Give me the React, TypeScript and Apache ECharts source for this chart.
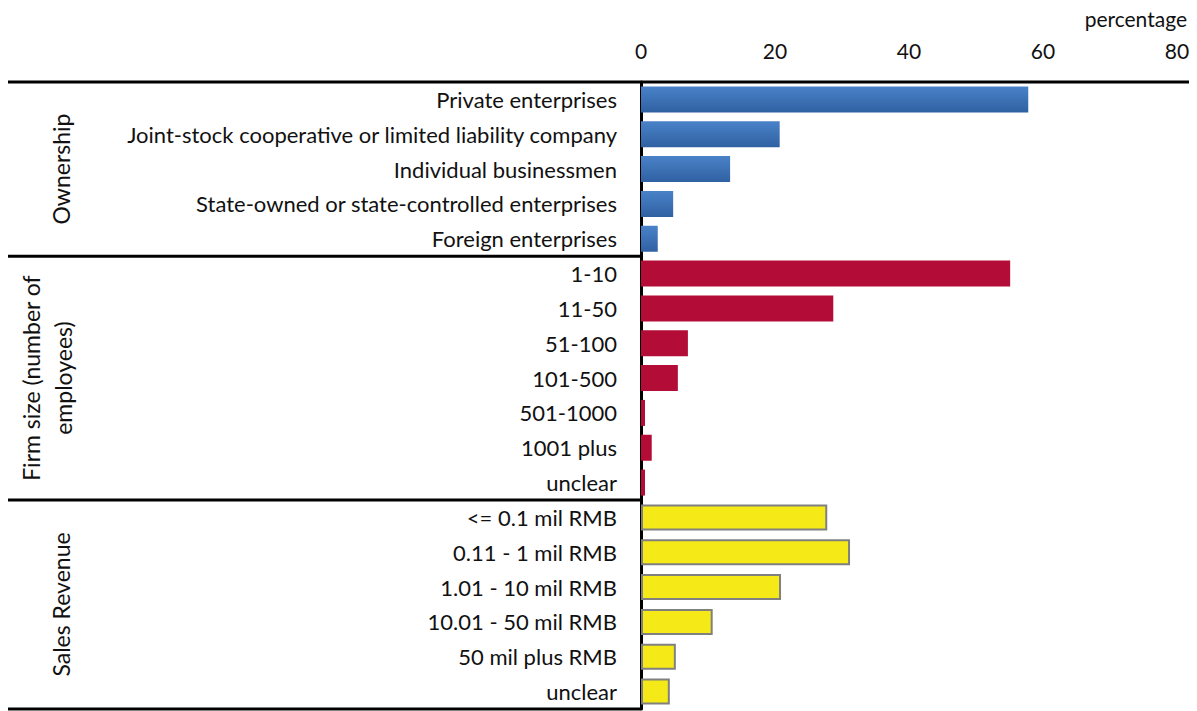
import React, { useEffect, useRef } from "react";
import * as echarts from "echarts";

const categories = [
  "Private enterprises",
  "Joint-stock cooperative or limited liability company",
  "Individual businessmen",
  "State-owned or state-controlled enterprises",
  "Foreign enterprises",
  "1-10",
  "11-50",
  "51-100",
  "101-500",
  "501-1000",
  "1001 plus",
  "unclear",
  "<= 0.1 mil RMB",
  "0.11 - 1 mil RMB",
  "1.01 - 10 mil RMB",
  "10.01 - 50 mil RMB",
  "50 mil plus RMB",
  "unclear",
];

const ownershipValues = [57.8, 20.7, 13.3, 4.8, 2.5];
const firmSizeValues = [55.1, 28.7, 7.0, 5.5, 0.6, 1.6, 0.6];
const salesValues = [27.8, 31.2, 20.9, 10.7, 5.2, 4.3];

const groupNames = ["Ownership", "Firm size (number of\nemployees)", "Sales Revenue"];
const groupSizes = [ownershipValues.length, firmSizeValues.length, salesValues.length];

const xTicks = { min: 0, max: 80, interval: 20 };

const FONT = "Lato";

export default function App() {
  const ref = useRef<HTMLDivElement>(null);
  useEffect(() => {
    if (!ref.current) return;
    const chart = echarts.init(ref.current, null, { renderer: "svg" });
    const W = 1197;
    const H = 711;
    const gridLeft = 641;
    const gridRight = 1177;
    const gridTop = 82;
    const gridBottom = 709;
    const rowH = (gridBottom - gridTop) / categories.length;

    const blue = new echarts.graphic.LinearGradient(0, 0, 0, 1, [
      { offset: 0, color: "#4a82c8" },
      { offset: 1, color: "#2f61a2" },
    ]);
    const data: any[] = [];
    ownershipValues.forEach((v) => data.push({ value: v, itemStyle: { color: blue } }));
    firmSizeValues.forEach((v) => data.push({ value: v, itemStyle: { color: "#b30c36" } }));
    salesValues.forEach((v) =>
      data.push({ value: v, itemStyle: { color: "#f5ea17", borderColor: "#808080", borderWidth: 2 } })
    );

    const graphics: any[] = [];
    graphics.push({
      type: "line",
      shape: { x1: 8, y1: gridTop, x2: 1189, y2: gridTop },
      style: { stroke: "#000", lineWidth: 3 },
    });
    let start = 0;
    groupSizes.forEach((n, gi) => {
      const yEnd = gridTop + (start + n) * rowH;
      const yMid = gridTop + (start + n / 2) * rowH;
      graphics.push({
        type: "line",
        shape: { x1: 8, y1: yEnd, x2: gridLeft, y2: yEnd },
        style: { stroke: "#000", lineWidth: 3 },
      });
      graphics.push({
        type: "text",
        x: gi === 1 ? 47 : 61,
        y: yMid,
        rotation: Math.PI / 2,
        style: {
          text: groupNames[gi],
          fontFamily: FONT,
          fontSize: 23,
          fill: "#111",
          align: "center",
          verticalAlign: "middle",
          lineHeight: 32,
        },
      });
      start += n;
    });
    graphics.push({
      type: "text",
      x: 1187,
      y: 18,
      style: {
        text: "percentage",
        fontFamily: FONT,
        fontSize: 21,
        fill: "#111",
        align: "right",
        verticalAlign: "middle",
      },
    });

    chart.setOption({
      animation: false,
      grid: { left: gridLeft, right: W - gridRight, top: gridTop, bottom: H - gridBottom, containLabel: false },
      xAxis: {
        type: "value",
        position: "top",
        min: xTicks.min,
        max: xTicks.max,
        interval: xTicks.interval,
        axisLine: { show: false },
        axisTick: { show: false },
        splitLine: { show: false },
        axisLabel: { fontFamily: FONT, fontSize: 21, color: "#111", margin: 21 },
      },
      yAxis: {
        type: "category",
        inverse: true,
        data: categories,
        axisLine: { show: true, lineStyle: { color: "#000", width: 3 } },
        axisTick: { show: false },
        splitLine: { show: false },
        axisLabel: { fontFamily: FONT, fontSize: 22, color: "#111", margin: 24, interval: 0 },
      },
      series: [
        {
          type: "bar",
          data,
          barWidth: 26,
        },
      ],
      graphic: graphics,
    });
    return () => chart.dispose();
  }, []);
  return (
    <div
      ref={ref}
      style={{ position: "fixed", left: 0, top: 0, width: 1197, height: 711, background: "#fff" }}
    />
  );
}
